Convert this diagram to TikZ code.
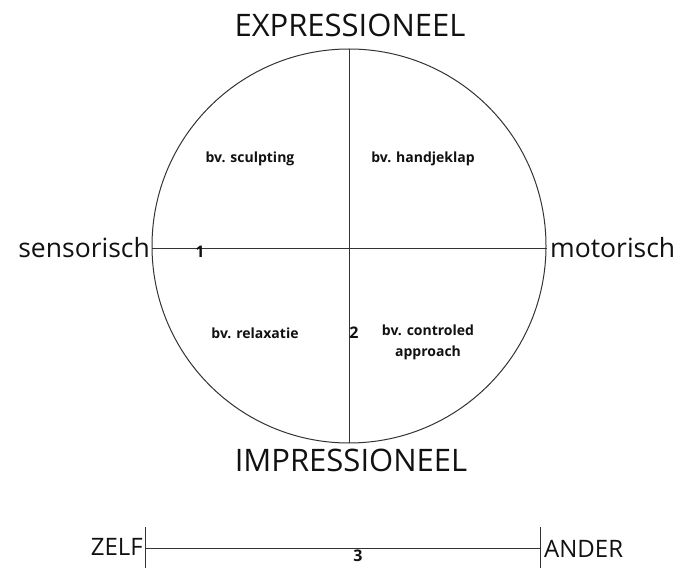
\documentclass[tikz,border=0pt]{standalone}
\usepackage{fontspec}
\setmainfont{Open Sans}
\usepackage{xcolor}
\usetikzlibrary{positioning,calc}
\definecolor{inkblack}{HTML}{111111}
\definecolor{linegray}{HTML}{333333}

\tikzset{
  axis/.style={linegray, line width=1pt},
  poletext/.style={inkblack, inner sep=0pt, font=\fontsize{31}{34}\selectfont},
  sidetext/.style={inkblack, inner sep=0pt, font=\fontsize{26.5}{29}\selectfont},
  examptext/.style={inkblack, inner sep=0pt, align=center, font=\fontsize{14}{21}\selectfont\bfseries},
  numtext/.style={inkblack, inner sep=0pt, font=\fontsize{16}{18}\selectfont\bfseries},
  endtext/.style={inkblack, inner sep=0pt, font=\fontsize{24}{26}\selectfont},
}

\begin{document}
\begin{tikzpicture}[x=1pt,y=1pt]
  \useasboundingbox (0,0) rectangle (680,571);
  % circle with its two axes
  \coordinate (ctr) at (349,325);
  \draw[axis] (ctr) circle (197);
  \coordinate (top) at (349,522);
  \coordinate (bot) at (349,128);
  \coordinate (lft) at (152,322);
  \coordinate (rgt) at (547,322);
  \draw[axis] (top) -- (bot);
  \draw[axis] (lft) -- (rgt);
  % pole labels
  \node[poletext] (expr) at (350,546) {EXPRESSIONEEL};
  \node[poletext] (impr) at (351,111) {IMPRESSIONEEL};
  \node[sidetext, anchor=east] (sens) at (150,323) {sensorisch};
  \node[sidetext, anchor=west] (moto) at (550,323) {motorisch};
  % examples per quadrant
  \node[examptext] (sculpt) at (250,412) {bv. sculpting};
  \node[examptext] (handje) at (423,412) {bv. handjeklap};
  \node[examptext] (relax) at (255,238) {bv. relaxatie};
  \node[examptext] (contr) at (428,229) {bv. controled\\approach};
  \node[numtext] (one) at (200,319) {1};
  \node[numtext] (two) at (354,238) {2};
  % zelf / ander scale
  \coordinate (zl) at (145,23);
  \coordinate (zr) at (540,23);
  \draw[axis] ($(zl)+(0,21)$) -- ($(zl)+(0,-20)$);
  \draw[axis] ($(zr)+(0,21)$) -- ($(zr)+(0,-20)$);
  \draw[axis] (zl) -- (zr);
  \node[endtext, anchor=east] (zelf) at ($(zl)+(-2,1)$) {ZELF};
  \node[endtext, anchor=west] (ander) at ($(zr)+(4,-1)$) {ANDER};
  \node[numtext] (three) at (358,15) {3};
\end{tikzpicture}
\end{document}
